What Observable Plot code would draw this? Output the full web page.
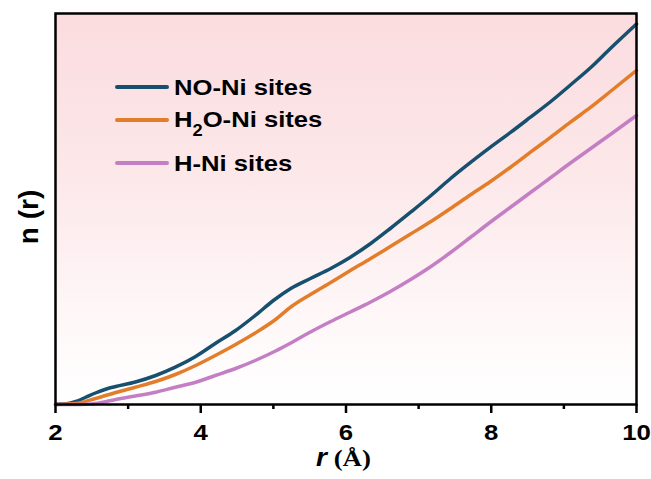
<!DOCTYPE html>
<html><head><meta charset="utf-8">
<script src="https://cdn.jsdelivr.net/npm/d3@7"></script>
<script src="https://cdn.jsdelivr.net/npm/@observablehq/plot@0.6"></script>
<style>body{margin:0;background:#fff;overflow:hidden;}</style>
</head><body><div id="chart"></div>
<script>
// r (Å) sample positions and n(r) values (arbitrary units)
const rNO  = [2.0, 2.15, 2.28, 2.41, 2.55, 2.7, 2.83, 3.1, 3.38, 3.65, 3.93, 4.2, 4.48, 4.75, 5.0, 5.24, 5.51, 5.79, 6.06, 6.34, 6.61, 6.89, 7.17, 7.44, 7.72, 7.99, 8.27, 8.54, 8.82, 9.09, 9.37, 9.64, 10.0];
const nNO  = [0.03, 0.08, 0.3, 0.7, 1.15, 1.55, 1.8, 2.25, 2.9, 3.73, 4.8, 6.1, 7.4, 8.9, 10.4, 11.6, 12.6, 13.6, 14.73, 16.1, 17.6, 19.23, 20.9, 22.6, 24.23, 25.73, 27.23, 28.73, 30.3, 31.95, 33.7, 35.6, 38.05];
const rH2O = [2.0, 2.28, 2.55, 2.83, 3.1, 3.38, 3.65, 3.93, 4.2, 4.48, 4.75, 5.03, 5.24, 5.51, 5.79, 6.06, 6.34, 6.61, 6.89, 7.17, 7.44, 7.72, 7.99, 8.27, 8.54, 8.82, 9.09, 9.37, 9.64, 10.0];
const nH2O = [0, 0.1, 0.6, 1.2, 1.73, 2.3, 3.0, 3.9, 4.9, 6.0, 7.15, 8.5, 9.75, 11.0, 12.2, 13.4, 14.6, 15.8, 17.05, 18.3, 19.6, 21.0, 22.3, 23.75, 25.23, 26.73, 28.23, 29.73, 31.3, 33.4];
const rH   = [2.0, 2.28, 2.41, 2.55, 2.7, 2.83, 3.1, 3.38, 3.65, 3.93, 4.2, 4.48, 4.75, 5.03, 5.24, 5.51, 5.79, 6.06, 6.34, 6.61, 6.89, 7.17, 7.44, 7.72, 7.99, 8.27, 8.54, 8.82, 9.09, 9.37, 9.64, 10.0];
const nH   = [0, 0, 0.02, 0.1, 0.3, 0.5, 0.85, 1.23, 1.73, 2.23, 2.9, 3.6, 4.4, 5.35, 6.15, 7.25, 8.3, 9.25, 10.25, 11.3, 12.5, 13.8, 15.2, 16.75, 18.25, 19.75, 21.2, 22.7, 24.15, 25.6, 27.0, 28.9];

const seriesNames = ["NO-Ni sites", "H2O-Ni sites", "H-Ni sites"];
const seriesColors = ["#17506f", "#e27d2a", "#c47fc4"];
const majorTicks = [2, 4, 6, 8, 10];
const minorTicks = [3, 5, 7, 9];

const data = [
  ...rNO.map((r, i) => ({r, n: nNO[i], series: seriesNames[0]})),
  ...rH2O.map((r, i) => ({r, n: nH2O[i], series: seriesNames[1]})),
  ...rH.map((r, i) => ({r, n: nH[i], series: seriesNames[2]}))
];

const W = 651, H = 479;
const mL = 55, mR = 15, mT = 13, mB = 75;
const STRETCH = 1.12;

const svg = Plot.plot({
  width: W, height: H,
  marginLeft: mL, marginRight: mR, marginTop: mT, marginBottom: mB,
  style: {fontFamily: "'Liberation Sans', Arial, sans-serif", color: "#000", background: "#fff", fontWeight: "bold"},
  x: {domain: [2, 10]},
  y: {domain: [0, 39.1]},
  color: {domain: seriesNames, range: seriesColors},
  marks: [
    Plot.frame({fill: "url(#bgGrad)"}),
    Plot.line(data, {x: "r", y: "n", z: "series", stroke: "series", strokeWidth: 3.5, curve: "monotone-x"}),
    Plot.axisX({ticks: majorTicks, tickSize: 9, tickPadding: 10, fontSize: 23, fontWeight: "bold", strokeWidth: 2.5, label: null}),
    Plot.axisX({ticks: minorTicks, tickSize: 5, tickFormat: () => "", strokeWidth: 2.5, label: null}),
    Plot.axisY({ticks: [], label: null}),
    Plot.frame({stroke: "#000", strokeWidth: 2.5})
  ]
});

const s = d3.select(svg);
const defs = s.insert("defs", ":first-child");
const g = defs.append("linearGradient").attr("id", "bgGrad").attr("x1", 0).attr("y1", 0).attr("x2", 0).attr("y2", 1);
g.append("stop").attr("offset", "0%").attr("stop-color", "#fbdcdf");
g.append("stop").attr("offset", "40%").attr("stop-color", "#fce7e9");
g.append("stop").attr("offset", "75%").attr("stop-color", "#fef6f7");
g.append("stop").attr("offset", "100%").attr("stop-color", "#ffffff");

// widen tick labels horizontally like the reference
s.selectAll('g[aria-label="x-axis tick label"] text').each(function() {
  const t = d3.select(this);
  const tr = t.attr("transform") || "";
  t.attr("transform", tr + ` scale(${STRETCH},1)`).attr("font-size", 23);
});

// Y axis label
s.append("text").attr("transform", `translate(28,217) rotate(-90)`)
  .attr("text-anchor", "middle").attr("dominant-baseline", "central")
  .attr("font-family", "'Liberation Sans', Arial, sans-serif").attr("font-weight", "bold")
  .attr("font-size", 28).attr("fill", "#000").text("n (r)");

// Legend
const leg = s.append("g").attr("font-family", "'Liberation Sans', Arial, sans-serif").attr("font-weight", "bold").attr("text-anchor", "start").attr("fill", "#000");
const legY = [87, 120, 163];
const textY = [95, 127, 171];
const LS = 1.14;
seriesColors.forEach((c, i) => {
  leg.append("line").attr("x1", 117).attr("x2", 167).attr("y1", legY[i]).attr("y2", legY[i])
    .attr("stroke", c).attr("stroke-width", 4).attr("stroke-linecap", "round");
});
const t0 = leg.append("text").attr("transform", `translate(174,${textY[0]}) scale(${LS},1)`).attr("font-size", 22.5);
t0.text("NO-Ni sites");
const t1 = leg.append("text").attr("transform", `translate(174,${textY[1]}) scale(${LS},1)`).attr("font-size", 22.5);
t1.append("tspan").text("H");
t1.append("tspan").attr("font-size", 16).attr("dy", 9).text("2");
t1.append("tspan").attr("dy", -9).text("O-Ni sites");
const t2 = leg.append("text").attr("transform", `translate(174,${textY[2]}) scale(${LS},1)`).attr("font-size", 22.5);
t2.text("H-Ni sites");

// X axis label
const xl = s.append("text").attr("transform", `translate(${(mL + W - mR) / 2 - 2},466) scale(${STRETCH},1)`)
  .attr("text-anchor", "middle").attr("fill", "#000");
xl.append("tspan").attr("font-family", "'Liberation Sans', Arial, sans-serif").attr("font-style", "italic").attr("font-weight", "bold").attr("font-size", 25).text("r");
xl.append("tspan").attr("font-family", "'Liberation Serif', 'Times New Roman', serif").attr("font-weight", "bold").attr("font-size", 24).text(" (Å)");

document.getElementById("chart").appendChild(svg);
</script>
</body></html>
